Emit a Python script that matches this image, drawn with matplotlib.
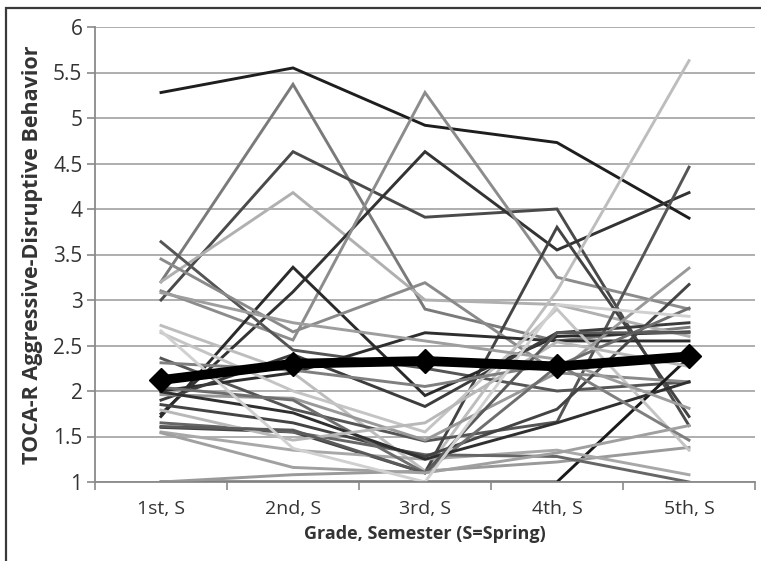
import matplotlib
matplotlib.use("Agg")
import matplotlib.pyplot as plt
from matplotlib.patches import Rectangle

# Grade / semester categories
grades = ["1st, S", "2nd, S", "3rd, S", "4th, S", "5th, S"]

# Individual classroom trajectories (TOCA-R aggressive-disruptive scores)
traj_01 = [5.28, 5.55, 4.92, 4.73, 3.90]
traj_02 = [3.20, 5.37, 2.90, 2.55, 2.70]
traj_03 = [3.00, 4.63, 3.91, 4.00, 1.62]
traj_04 = [3.20, 4.18, 3.00, 2.95, 2.60]
traj_05 = [1.75, 3.09, 4.63, 3.55, 4.18]
traj_06 = [3.10, 2.56, 5.28, 3.25, 2.90]
traj_07 = [2.72, 2.20, 1.12, 3.10, 5.63]
traj_08 = [2.36, 1.80, 1.45, 1.66, 4.46]
traj_09 = [3.64, 2.45, 2.25, 2.00, 2.10]
traj_10 = [1.60, 1.55, 1.10, 3.80, 1.72]
traj_11 = [1.72, 3.36, 1.95, 2.60, 2.65]
traj_12 = [3.45, 2.65, 3.19, 2.20, 2.10]
traj_13 = [2.00, 2.20, 2.64, 2.55, 2.55]
traj_14 = [1.90, 2.40, 1.83, 2.64, 2.75]
traj_15 = [1.00, 1.00, 1.00, 1.00, 2.37]
traj_16 = [1.00, 1.08, 1.12, 1.22, 1.38]
traj_17 = [1.55, 1.35, 1.25, 1.35, 1.08]
traj_18 = [1.65, 1.55, 1.30, 1.28, 1.00]
traj_19 = [2.64, 2.00, 1.55, 2.90, 1.35]
traj_20 = [1.96, 1.92, 1.46, 2.20, 3.35]
traj_21 = [1.85, 1.65, 1.28, 1.80, 3.17]
traj_22 = [2.04, 1.90, 1.10, 2.27, 2.91]
traj_23 = [1.99, 1.76, 1.25, 1.65, 2.10]
traj_24 = [1.79, 1.46, 1.65, 2.54, 2.27]
traj_25 = [2.31, 2.23, 2.05, 2.30, 1.46]
traj_26 = [1.61, 1.57, 1.10, 2.64, 2.64]
traj_27 = [3.08, 2.75, 2.55, 2.35, 1.81]
traj_28 = [1.54, 1.16, 1.10, 1.32, 1.62]
traj_29 = [2.66, 1.37, 1.00, 2.95, 2.82]

# Overall mean trajectory
mean_scores = [2.12, 2.30, 2.33, 2.27, 2.38]

trajectories = [
    (traj_01, "#1e1e1e"), (traj_02, "#7a7a7a"), (traj_03, "#4a4a4a"),
    (traj_04, "#b0b0b0"), (traj_05, "#333333"), (traj_06, "#8c8c8c"),
    (traj_07, "#bdbdbd"), (traj_08, "#555555"), (traj_09, "#555555"),
    (traj_10, "#444444"), (traj_11, "#2a2a2a"), (traj_12, "#8a8a8a"),
    (traj_13, "#2e2e2e"), (traj_14, "#3c3c3c"), (traj_15, "#1a1a1a"),
    (traj_16, "#9a9a9a"), (traj_17, "#a8a8a8"), (traj_18, "#666666"),
    (traj_19, "#c4c4c4"), (traj_20, "#999999"), (traj_21, "#444444"),
    (traj_22, "#6e6e6e"), (traj_23, "#2f2f2f"), (traj_24, "#b8b8b8"),
    (traj_25, "#7f7f7f"), (traj_26, "#5a5a5a"), (traj_27, "#9e9e9e"),
    (traj_28, "#a0a0a0"), (traj_29, "#d0d0d0"),
]

plt.rcParams["font.family"] = ["Open Sans", "DejaVu Sans"]

fig = plt.figure(figsize=(7.61, 5.61), dpi=100)
fig.patch.set_facecolor("white")

# Outer chart frame
fig.patches.append(Rectangle((6 / 761, -0.05), 1.2, 1 - 8 / 561 + 0.05,
                             transform=fig.transFigure, fill=False,
                             edgecolor="#3a3a3a", linewidth=1.6, zorder=0))

ax = fig.add_axes([95 / 761, 1 - 482 / 561, 660 / 761, 455 / 561])
x = list(range(len(grades)))

ax.set_ylim(1, 6)
ax.set_xlim(-0.5, len(grades) - 0.5)
ax.set_yticks([1, 1.5, 2, 2.5, 3, 3.5, 4, 4.5, 5, 5.5, 6])
ax.set_yticklabels(["1", "1.5", "2", "2.5", "3", "3.5", "4", "4.5", "5", "5.5", "6"])
ax.yaxis.grid(True, color="#a8a8a8", linewidth=1.3)
ax.set_axisbelow(True)

for vals, col in trajectories:
    ax.plot(x, vals, color=col, linewidth=2.1, solid_joinstyle="miter", zorder=2)

ax.plot(x, mean_scores, color="black", linewidth=7, marker="D",
        markersize=12, zorder=5)

# Axes styling
for side in ("top", "right"):
    ax.spines[side].set_visible(False)
ax.spines["left"].set_color("#8a8a8a")
ax.spines["bottom"].set_color("#8a8a8a")
ax.spines["left"].set_linewidth(1.3)
ax.spines["bottom"].set_linewidth(1.3)

ax.set_xticks([i - 0.5 for i in range(len(grades) + 1)], minor=False)
ax.set_xticklabels([])
ax.set_xticks(x, minor=True)
ax.set_xticklabels(grades, minor=True)
ax.tick_params(axis="x", which="major", length=6, color="#8a8a8a", width=1.2)
ax.tick_params(axis="x", which="minor", length=0, pad=13, labelsize=14,
               labelcolor="#333333")
ax.tick_params(axis="y", length=6, color="#8a8a8a", width=1.2, labelsize=15,
               labelcolor="#333333", pad=3)

ax.set_xlabel("Grade, Semester (S=Spring)", fontsize=13, fontweight="bold",
              color="#333333", labelpad=5)
ax.set_ylabel("TOCA-R Aggressive-Disruptive Behavior", fontsize=15.5,
              fontweight="bold", color="#333333", labelpad=7)

fig.savefig("out.png", dpi=100, facecolor="white")
